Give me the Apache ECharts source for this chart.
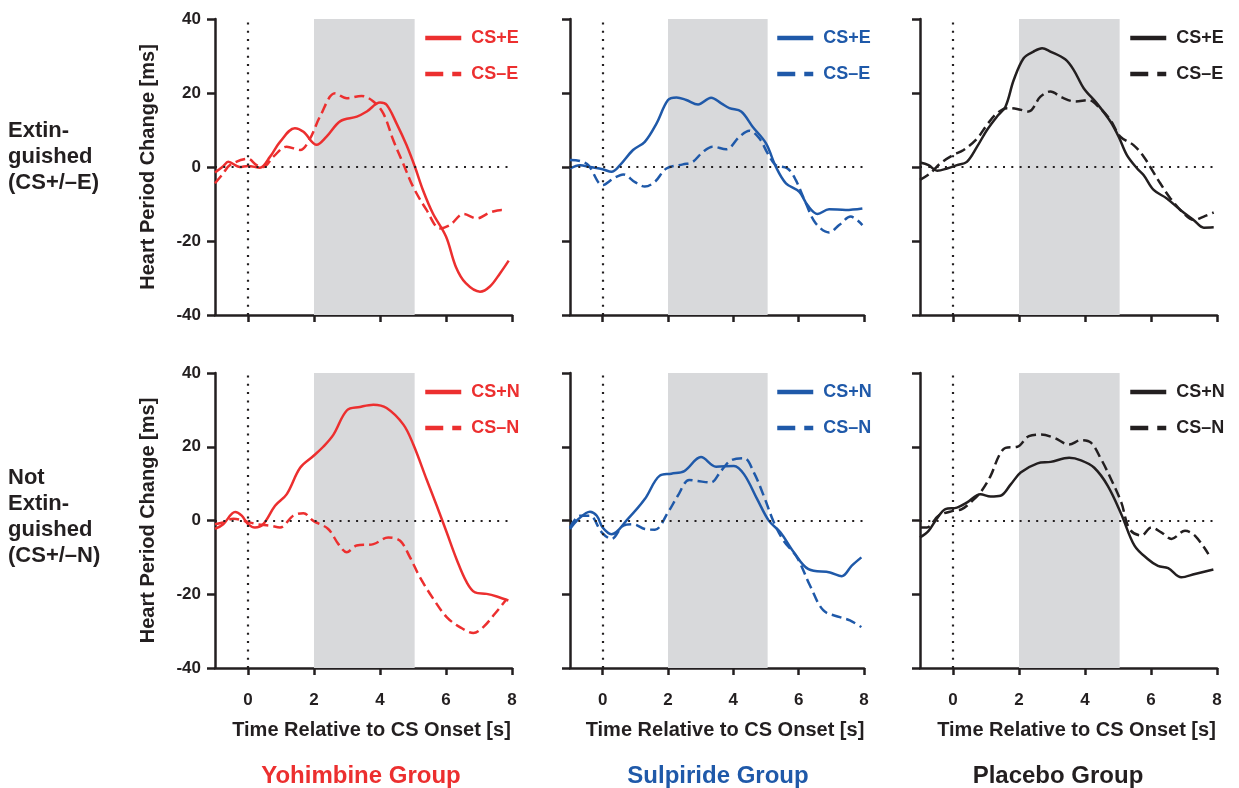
<!DOCTYPE html>
<html>
<head>
<meta charset="utf-8">
<script src="https://cdn.jsdelivr.net/npm/echarts@6/dist/echarts.min.js"></script>
<style>
  html, body { margin: 0; padding: 0; background: #fff; }
  #chart { width: 1239px; height: 788px; }
</style>
</head>
<body>
<div id="chart"></div>
<script>
// --- data: [time s, heart period change ms] ---
const groups = ['Yohimbine Group', 'Sulpiride Group', 'Placebo Group'];
const groupColors = ['#ec2f2f', '#1f59a9', '#231f20'];
const rowLabels = ['Extin-\nguished\n(CS+/\u2013E)', 'Not\nExtin-\nguished\n(CS+/\u2013N)'];
const legendNames = [['CS+E', 'CS\u2013E'], ['CS+N', 'CS\u2013N']];
const xTicks = [0, 2, 4, 6, 8];
const csWindow = [2, 5.05];

// Yohimbine
const yohPlusE = [[-1,-1.5],[-0.75,0.2],[-0.6,1.4],[-0.25,0],[0,0.3],[0.36,-0.2],[0.67,2.8],[0.97,6.8],[1.42,10.5],[1.68,9.5],[2.08,6],[2.38,8.2],[2.8,12.4],[3.3,13.6],[3.6,15],[4.0,17.4],[4.2,16.8],[4.5,11.8],[4.8,6],[5.06,0],[5.3,-6.2],[5.6,-12.5],[6.0,-18.8],[6.3,-27],[6.6,-31.4],[7.03,-33.7],[7.33,-32.3],[7.64,-28.7],[7.9,-25.3]];
const yohMinusE = [[-1,-4.4],[-0.75,-1.7],[-0.55,0.5],[0,2.2],[0.26,0.5],[0.46,0],[0.77,2.8],[1.17,5.5],[1.58,4.6],[1.88,7.7],[2.18,13.6],[2.64,19.9],[2.99,18.6],[3.44,19.2],[3.8,17.7],[4.1,14.5],[4.4,7.3],[4.7,1],[5.0,-5.3],[5.41,-11.6],[5.82,-16.6],[6.12,-15.7],[6.53,-12.7],[6.93,-13.9],[7.33,-12.3],[7.69,-11.6],[7.8,-12]];
const yohPlusN = [[-1,-2.3],[-0.75,-1],[-0.39,2.3],[-0.19,1.3],[0,-1],[0.21,-1.9],[0.46,-1],[0.82,4],[1.17,7.1],[1.58,14.3],[1.98,17.5],[2.28,20],[2.59,23.3],[3.0,29.9],[3.39,30.8],[3.8,31.4],[4.2,30.5],[4.71,26],[5.01,20.6],[5.41,11.2],[5.72,4],[6.02,-3.2],[6.32,-10.5],[6.63,-16.8],[6.88,-19.5],[7.23,-19.9],[7.54,-20.6],[7.89,-21.7]];
const yohMinusN = [[-1,-1],[-0.75,-0.5],[-0.44,0.5],[0,-0.4],[0.26,-1],[0.67,-1.4],[0.97,-1.9],[1.37,1.3],[1.68,2],[1.98,-0.1],[2.43,-2.3],[2.74,-6.4],[2.99,-8.6],[3.29,-6.8],[3.8,-6.4],[4.25,-4.6],[4.61,-5.5],[4.91,-10],[5.21,-15.4],[5.62,-21.3],[6.02,-26.2],[6.42,-28.9],[6.83,-30.5],[7.13,-28.9],[7.48,-25.3],[7.84,-21.3]];

// Sulpiride
const sulPlusE = [[-1,-0.4],[-0.69,0.5],[-0.39,0],[0,-0.6],[0.27,-1.3],[0.53,0.5],[0.93,4.6],[1.29,6.8],[1.65,11.8],[2.0,18.1],[2.26,18.8],[2.56,18.1],[2.92,16.9],[3.32,18.7],[3.63,17.2],[3.88,15.9],[4.24,15],[4.59,10.9],[5.0,6.4],[5.3,0.1],[5.61,-4.4],[6.02,-6.7],[6.27,-10.3],[6.58,-12.7],[6.93,-11.4],[7.44,-11.6],[7.95,-11.2]];
const sulMinusE = [[-1,1.9],[-0.69,1.6],[-0.44,0.5],[0,-4.9],[0.33,-3.1],[0.63,-2],[0.99,-4.1],[1.29,-5.3],[1.6,-4],[1.95,-0.4],[2.46,0.7],[2.76,1.4],[3.07,4.1],[3.37,5.5],[3.78,4.8],[4.19,8.2],[4.49,9.8],[4.8,7.7],[5.05,3.7],[5.3,0.5],[5.66,-0.4],[5.91,-3.5],[6.22,-9.8],[6.52,-15.2],[6.93,-17.7],[7.24,-15.7],[7.59,-13.4],[7.95,-15.7]];
const sulPlusN = [[-1,-2.3],[-0.74,0.4],[-0.39,2.4],[-0.18,1.3],[0,-1.9],[0.27,-3.7],[0.78,0.5],[1.29,5.8],[1.74,12.1],[2.1,12.7],[2.5,13.4],[3.01,17.2],[3.47,14.6],[4.02,14.8],[4.33,12.5],[4.73,5.8],[5.09,-0.1],[5.44,-3.2],[5.85,-8.6],[6.3,-13.2],[6.96,-14.1],[7.32,-15.1],[7.62,-12.3],[7.92,-10]];
const sulMinusN = [[-1,-1.9],[-0.69,1.3],[-0.39,1.3],[-0.03,-3.2],[0.27,-5],[0.63,-1.4],[0.93,-1],[1.29,-2.3],[1.6,-2.5],[2.0,2.2],[2.3,6.7],[2.65,11],[2.91,10.7],[3.31,10.3],[3.62,13.4],[3.92,16.3],[4.33,16.9],[4.63,13],[4.93,6.7],[5.24,-0.5],[5.54,-5.5],[5.95,-10],[6.35,-17.7],[6.76,-24.4],[7.26,-26.2],[7.57,-27.1],[7.92,-28.9]];

// Placebo
const plaPlusE = [[-1,1.2],[-0.74,0.5],[-0.48,-1],[-0.18,-0.4],[0.12,0.5],[0.42,1.4],[0.73,5.5],[1.03,10],[1.33,13.6],[1.59,16.3],[1.84,23.5],[2.14,29.4],[2.44,31.2],[2.7,32.1],[2.95,31.2],[3.4,29.1],[3.66,26.2],[3.96,21.3],[4.36,17.2],[4.77,12.3],[5.02,8.2],[5.27,3.2],[5.58,-0.4],[5.78,-2.2],[6.08,-6.2],[6.48,-8.5],[6.89,-11.6],[7.29,-14.3],[7.6,-16.4],[7.9,-16.3]];
const plaMinusE = [[-1,-3.5],[-0.69,-1.7],[-0.38,1],[0,3.2],[0.32,4.6],[0.73,7.7],[1.03,11.4],[1.33,14.5],[1.64,15.9],[1.94,15.7],[2.29,15],[2.65,19],[2.95,20.4],[3.3,18.8],[3.71,17.7],[4.11,18.1],[4.41,16.3],[4.77,12.7],[5.07,8.2],[5.47,5.9],[5.78,2.8],[6.03,-0.8],[6.28,-4.4],[6.59,-8.5],[6.99,-12.5],[7.29,-14.3],[7.6,-13.4],[7.9,-12.3]];
const plaPlusN = [[-1,-4.6],[-0.74,-2.8],[-0.49,0.5],[-0.23,3.1],[0.12,3.5],[0.43,4.9],[0.83,7.1],[1.14,6.5],[1.44,6.7],[1.75,9.8],[2.05,13],[2.56,15.5],[2.96,15.9],[3.52,17],[3.88,16.3],[4.28,14.3],[4.69,9.4],[5.1,1.7],[5.5,-6.8],[5.91,-10.5],[6.21,-12.3],[6.52,-12.9],[6.92,-15.4],[7.33,-14.5],[7.89,-13.3]];
const plaMinusN = [[-1,-1.9],[-0.79,-1.9],[-0.44,1.3],[0,2.6],[0.27,3.1],[0.58,5.3],[0.83,7.6],[1.14,12.1],[1.39,17.5],[1.59,19.7],[1.95,20],[2.3,22.9],[2.66,23.3],[3.07,22.4],[3.52,20.6],[3.88,21.8],[4.18,21.1],[4.49,16.6],[4.79,11.2],[5.1,4.9],[5.35,-2.3],[5.71,-4.1],[6.01,-1.9],[6.31,-3.2],[6.62,-5],[7.03,-2.8],[7.33,-4.1],[7.74,-9.1]];

// panel order: row 0 = extinguished, row 1 = not extinguished; columns = groups
const panelData = [
  [[yohPlusE, yohMinusE], [sulPlusE, sulMinusE], [plaPlusE, plaMinusE]],
  [[yohPlusN, yohMinusN], [sulPlusN, sulMinusN], [plaPlusN, plaMinusN]]
];

// --- layout ---
const gridLeft = [215, 570, 920];
const gridWidth = [297, 294, 297];
const gridTop = [19, 373];
const gridHeight = [296, 295];
const titleCenter = [356, 713, 1053];
const FONT = '"Liberation Sans", Arial, sans-serif';
const INK = '#231f20';

const grids = [], xAxes = [], yAxes = [], series = [], legends = [];

for (let r = 0; r < 2; r++) {
  for (let c = 0; c < 3; c++) {
    const i = r * 3 + c;
    const col = groupColors[c];
    grids.push({ left: gridLeft[c], top: gridTop[r], width: gridWidth[c], height: gridHeight[r] });

    xAxes.push({
      type: 'value', gridIndex: i, min: -1, max: 8,
      axisLine: { onZero: false, lineStyle: { color: INK, width: 2.5 } },
      axisTick: { customValues: xTicks, length: 7, lineStyle: { color: INK, width: 2.5 } },
      axisLabel: { show: r === 1, customValues: xTicks, margin: 24, color: INK, fontFamily: FONT, fontWeight: 'bold', fontSize: 17 },
      splitLine: { show: false },
      name: r === 1 ? 'Time Relative to CS Onset [s]' : '',
      nameLocation: 'middle', nameGap: 52,
      nameTextStyle: { color: INK, fontFamily: FONT, fontWeight: 'bold', fontSize: 20, padding: [0, 0, 0, 16] }
    });

    yAxes.push({
      type: 'value', gridIndex: i, min: -40, max: 40, interval: 20,
      axisLine: { show: true, onZero: false, lineStyle: { color: INK, width: 2.5 } },
      axisTick: { show: true, length: 8, lineStyle: { color: INK, width: 2.5 } },
      axisLabel: { show: c === 0, margin: 14, color: INK, fontFamily: FONT, fontWeight: 'bold', fontSize: 17 },
      splitLine: { show: false },
      name: c === 0 ? 'Heart Period Change [ms]' : '',
      nameLocation: 'middle', nameGap: 57,
      nameTextStyle: { color: INK, fontFamily: FONT, fontWeight: 'bold', fontSize: 20 }
    });

    // background: CS window band + dotted zero lines
    series.push({
      type: 'line', xAxisIndex: i, yAxisIndex: i, data: [], z: 1, silent: true,
      markArea: {
        silent: true,
        itemStyle: { color: '#d8d9db' },
        data: [[{ xAxis: csWindow[0] }, { xAxis: csWindow[1] }]]
      },
      markLine: {
        silent: true, symbol: 'none', label: { show: false },
        lineStyle: { color: INK, type: [2, 6.3], width: 2.2 },
        data: [{ xAxis: 0 }, { yAxis: 0 }]
      }
    });

    const names = legendNames[r].map(n => groups[c] + '|' + n);
    panelData[r][c].forEach((d, k) => {
      series.push({
        name: names[k], type: 'line', xAxisIndex: i, yAxisIndex: i,
        data: d, smooth: 0.35, symbol: 'none', z: 3,
        lineStyle: { color: col, width: 2.5, type: k === 0 ? 'solid' : 'dashed' },
        itemStyle: { color: col }
      });
    });

    legends.push({
      data: names, orient: 'vertical',
      left: gridLeft[c] + gridWidth[c] - 94, top: gridTop[r] + 5,
      itemWidth: 36, itemHeight: 16, itemGap: 18,
      selectedMode: false,
      lineStyle: { width: 4.5 },
      itemStyle: { opacity: 0 },
      formatter: n => n.split('|')[1],
      textStyle: { color: col, fontFamily: FONT, fontWeight: 'bold', fontSize: 18, padding: [0, 0, 0, 5] }
    });
  }
}

const titles = groups.map((g, c) => ({
  text: g, left: titleCenter[c], top: 759, textAlign: 'center',
  textStyle: { color: groupColors[c], fontFamily: FONT, fontWeight: 'bold', fontSize: 24 }
}));
titles.push(
  { text: rowLabels[0], left: 3, top: 113, textStyle: { color: INK, fontFamily: FONT, fontWeight: 'bold', fontSize: 22, lineHeight: 26 } },
  { text: rowLabels[1], left: 3, top: 460, textStyle: { color: INK, fontFamily: FONT, fontWeight: 'bold', fontSize: 22, lineHeight: 26 } }
);

const chart = echarts.init(document.getElementById('chart'), null, { renderer: 'canvas' });
chart.setOption({
  animation: false,
  backgroundColor: '#fff',
  title: titles,
  legend: legends,
  grid: grids,
  xAxis: xAxes,
  yAxis: yAxes,
  series: series
});
</script>
</body>
</html>
